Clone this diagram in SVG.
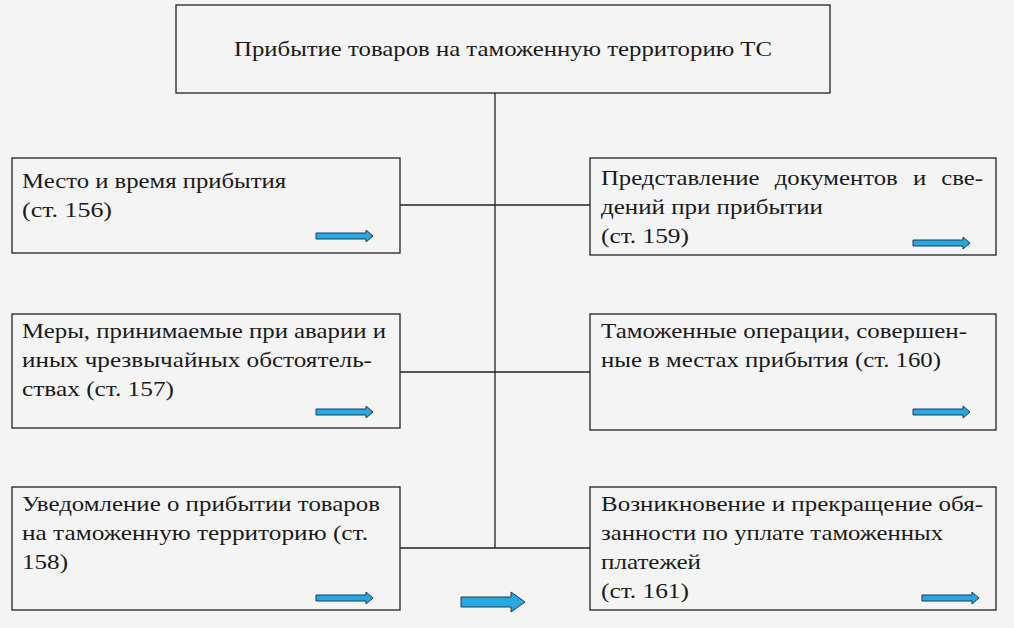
<svg xmlns="http://www.w3.org/2000/svg" width="1014" height="628" viewBox="0 0 1014 628">
<style>
rect.b{fill:#f4f4f4;stroke:#222;stroke-width:1.3}
text{font-family:"Liberation Serif","DejaVu Serif",serif;font-size:22px;fill:#1a1a1a}
.c line{stroke:#222;stroke-width:1.3}
.a{fill:#29a8e0;stroke:#1d3d5c;stroke-width:1}
</style>
<defs>
<path id="sa" d="M0,-3 H50 V-6 L57,0 L50,6 V3 H0 Z"/>
<path id="ba" d="M0,-5 H50 V-10 L64,0 L50,10 V5 H0 Z"/>
</defs>
<rect width="1014" height="628" fill="#f4f4f4"/>
<g class="c">
<line x1="495" y1="93" x2="495" y2="548"/>
<line x1="400" y1="205" x2="590" y2="205"/>
<line x1="400" y1="372" x2="590" y2="372"/>
<line x1="400" y1="548" x2="590" y2="548"/>
</g>
<g id="top"><rect class="b" x="176" y="5" width="654" height="88"/><text x="234" y="56" textLength="538" lengthAdjust="spacingAndGlyphs">Прибытие товаров на таможенную территорию ТС</text></g>
<g id="l1"><rect class="b" x="12" y="158" width="388" height="95"/><text x="22" y="188" textLength="264" lengthAdjust="spacingAndGlyphs">Место и время прибытия</text><text x="22" y="217" textLength="90" lengthAdjust="spacingAndGlyphs">(ст. 156)</text><use href="#sa" class="a" x="316" y="236"/></g>
<g id="l2"><rect class="b" x="12" y="314" width="388" height="114"/><text x="22" y="338" textLength="364" lengthAdjust="spacingAndGlyphs">Меры, принимаемые при аварии и</text><text x="22" y="367" textLength="350" lengthAdjust="spacingAndGlyphs">иных чрезвычайных обстоятель-</text><text x="22" y="396" textLength="152" lengthAdjust="spacingAndGlyphs">ствах (ст. 157)</text><use href="#sa" class="a" x="316" y="412"/></g>
<g id="l3"><rect class="b" x="12" y="487" width="388" height="123"/><text x="22" y="511" textLength="358" lengthAdjust="spacingAndGlyphs">Уведомление о прибытии товаров</text><text x="22" y="540" textLength="346" lengthAdjust="spacingAndGlyphs">на таможенную территорию (ст.</text><text x="22" y="569" textLength="46" lengthAdjust="spacingAndGlyphs">158)</text><use href="#sa" class="a" x="316" y="598"/></g>
<g id="r1"><rect class="b" x="590" y="158" width="406" height="97"/><text x="601" y="185" textLength="382" lengthAdjust="spacingAndGlyphs" word-spacing="8">Представление документов и све-</text><text x="601" y="214" textLength="222" lengthAdjust="spacingAndGlyphs">дений при прибытии</text><text x="601" y="243" textLength="88" lengthAdjust="spacingAndGlyphs">(ст. 159)</text><use href="#sa" class="a" x="913" y="243"/></g>
<g id="r2"><rect class="b" x="590" y="314" width="406" height="116"/><text x="601" y="338" textLength="366" lengthAdjust="spacingAndGlyphs">Таможенные операции, совершен-</text><text x="601" y="367" textLength="340" lengthAdjust="spacingAndGlyphs">ные в местах прибытия (ст. 160)</text><use href="#sa" class="a" x="913" y="412"/></g>
<g id="r3"><rect class="b" x="590" y="487" width="406" height="123"/><text x="601" y="511" textLength="382" lengthAdjust="spacingAndGlyphs">Возникновение и прекращение обя-</text><text x="601" y="540" textLength="342" lengthAdjust="spacingAndGlyphs">занности по уплате таможенных</text><text x="601" y="569" textLength="100" lengthAdjust="spacingAndGlyphs">платежей</text><text x="601" y="598" textLength="88" lengthAdjust="spacingAndGlyphs">(ст. 161)</text><use href="#sa" class="a" x="922" y="598"/></g>
<use href="#ba" class="a" x="461" y="602"/>
</svg>
